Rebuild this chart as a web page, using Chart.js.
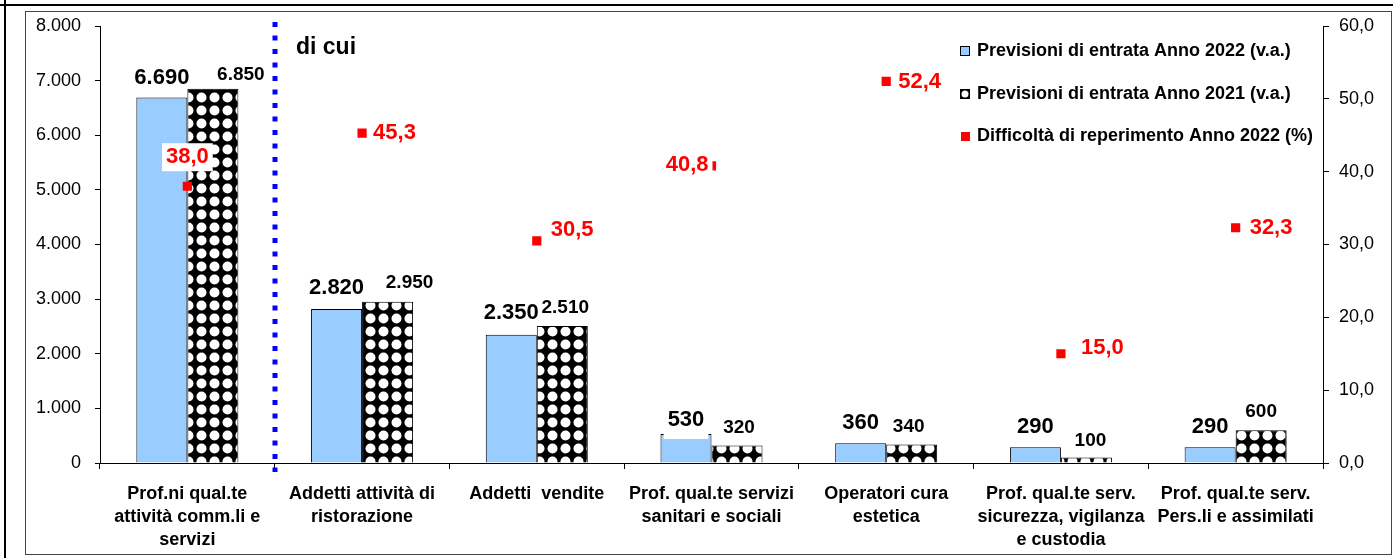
<!DOCTYPE html>
<html>
<head>
<meta charset="utf-8">
<script src="https://cdn.jsdelivr.net/npm/chart.js@4.4.1/dist/chart.umd.min.js"></script>
<style>
  html, body { margin: 0; padding: 0; background: #fff; }
  #chart { display: block; }
</style>
</head>
<body>
<canvas id="chart" width="1393" height="558"></canvas>
<script>
// --- data ---
const categories = [
  ['Prof.ni qual.te', 'attività comm.li e', 'servizi'],
  ['Addetti attività di', 'ristorazione'],
  ['Addetti  vendite'],
  ['Prof. qual.te servizi', 'sanitari e sociali'],
  ['Operatori cura', 'estetica'],
  ['Prof. qual.te serv.', 'sicurezza, vigilanza', 'e custodia'],
  ['Prof. qual.te serv.', 'Pers.li e assimilati']
];
const entrate_2022 = [6690, 2820, 2350, 530, 360, 290, 290];
const entrate_2021 = [6850, 2950, 2510, 320, 340, 100, 600];
const difficolta_2022 = [38.0, 45.3, 30.5, 40.8, 52.4, 15.0, 32.3];
const series_labels = [
  'Previsioni di entrata Anno 2022 (v.a.)',
  'Previsioni di entrata Anno 2021 (v.a.)',
  'Difficoltà di reperimento Anno 2022 (%)'
];
const left_max = 8000, left_step = 1000;
const right_max = 60, right_step = 10;
const divider_text = 'di cui';

const BLUE = '#99ccff';
const RED = '#ff0000';
const FONT = "'Liberation Sans', Arial, sans-serif";

// italian number formats: 6.690 / 38,0
function fmt_int(v) { return String(Math.round(v)).replace(/\B(?=(\d{3})+(?!\d))/g, '.'); }
function fmt_dec(v) { return Number(v).toFixed(1).replace('.', ','); }

// narrow font for the category labels if installed, otherwise a smaller regular one
function has_font(name) {
  const g = document.createElement('canvas').getContext('2d');
  const s = 'Addetti attività di ristorazione';
  g.font = 'bold 20px monospace';
  const a = g.measureText(s).width;
  g.font = `bold 20px '${name}', monospace`;
  const b = g.measureText(s).width;
  return Math.abs(a - b) > 0.5;
}
const narrow = has_font('Liberation Sans Narrow');
const x_font = narrow
  ? { family: "'Liberation Sans Narrow', " + FONT, size: 21, weight: 'bold', lineHeight: 1.12 }
  : { family: FONT, size: 18, weight: 'bold', lineHeight: 1.3 };

const canvas = document.getElementById('chart');
const main_ctx = canvas.getContext('2d');

// black with white dots, like the old excel fill
function make_checker() {
  const n = 13;
  const c = document.createElement('canvas');
  c.width = n; c.height = n;
  const g = c.getContext('2d');
  g.fillStyle = '#000'; g.fillRect(0, 0, n, n);
  g.fillStyle = '#fff';
  g.beginPath(); g.arc(n / 2, n / 2, 5.0, 0, Math.PI * 2); g.fill();
  return main_ctx.createPattern(c, 'repeat');
}
const checker = make_checker();

function text_box(ctx, txt, x, y, align, bg, bg_down) {
  ctx.textAlign = align;
  ctx.textBaseline = 'middle';
  if (bg) {
    const w = ctx.measureText(txt).width;
    const left = align === 'center' ? x - w / 2 : (align === 'right' ? x - w : x);
    ctx.save();
    ctx.fillStyle = '#fff';
    ctx.fillRect(left - 4, y - 14, w + 8, 28 + (bg_down || 0));
    ctx.restore();
  }
  ctx.fillText(txt, x, y);
}

const labelsPlugin = {
  id: 'labels_and_divider',
  beforeDraw(chart) {
    const ctx = chart.ctx;
    ctx.save();
    ctx.fillStyle = '#fff';
    ctx.fillRect(0, 0, chart.width, chart.height);
    ctx.restore();
  },
  afterDatasetsDraw(chart) {
    const { ctx, chartArea, scales: { x } } = chart;
    ctx.save();

    // dotted divider between first column and the "di cui" part
    const xd = Math.round((x.getPixelForValue(0) + x.getPixelForValue(1)) / 2);
    ctx.strokeStyle = '#0000ff';
    ctx.lineWidth = 5;
    ctx.setLineDash([5, 8.5]);
    ctx.beginPath();
    ctx.moveTo(xd, chartArea.top - 4);
    ctx.lineTo(xd, chartArea.bottom + 9);
    ctx.stroke();
    ctx.setLineDash([]);

    ctx.fillStyle = '#000';
    ctx.font = 'bold 23px ' + FONT;
    ctx.textAlign = 'left';
    ctx.textBaseline = 'middle';
    ctx.fillText(divider_text, xd + 21, chartArea.top + 22);

    // bar values
    const m22 = chart.getDatasetMeta(0), m21 = chart.getDatasetMeta(1);
    const dy22 = [-20, -21, -22, -14, -20, -20, -20];
    ctx.font = 'bold 22px ' + FONT;
    m22.data.forEach((bar, i) => {
      text_box(ctx, fmt_int(entrate_2022[i]), bar.x, bar.y + dy22[i], 'center', i === 3, 5);
    });
    const dx21 = [28, 22, 3, 2, -3, 4, 0];
    const dy21 = [-14, -19, -18, -18, -18, -17, -18];
    ctx.font = 'bold 19px ' + FONT;
    m21.data.forEach((bar, i) => {
      text_box(ctx, fmt_int(entrate_2021[i]), bar.x + dx21[i], bar.y + dy21[i], 'center', false);
    });

    // difficulty labels
    const pos = [
      { dx: 0, dy: -29, align: 'center', bg: true },
      { dx: 11, dy: 0, align: 'left' },
      { dx: 14, dy: -11, align: 'left' },
      { dx: -3, dy: -1, align: 'right', bg: true },
      { dx: 12, dy: 1, align: 'left' },
      { dx: 20, dy: -6, align: 'left' },
      { dx: 14, dy: 0, align: 'left' }
    ];
    const md = chart.getDatasetMeta(2);
    ctx.font = 'bold 22px ' + FONT;
    ctx.fillStyle = RED;
    md.data.forEach((pt, i) => {
      const p = pos[i];
      text_box(ctx, fmt_dec(difficolta_2022[i]), pt.x + p.dx, pt.y + p.dy, p.align, p.bg);
    });
    ctx.restore();
  },
  afterDraw(chart) {
    const { ctx, chartArea } = chart;
    ctx.save();
    // legend inside the plot, top right
    const lx = chartArea.right - 363;
    const ly = [51, 94, 136];
    ctx.font = 'bold 18px ' + FONT;
    ctx.textAlign = 'left';
    ctx.textBaseline = 'middle';
    // marker 1
    ctx.fillStyle = BLUE;
    ctx.fillRect(lx, ly[0] - 5, 10, 10);
    ctx.strokeStyle = '#000'; ctx.lineWidth = 1;
    ctx.strokeRect(lx + 0.5, ly[0] - 4.5, 9, 9);
    // marker 2
    ctx.fillStyle = '#000';
    ctx.fillRect(lx, ly[1] - 5, 10, 10);
    ctx.fillStyle = '#fff';
    ctx.beginPath(); ctx.arc(lx + 5, ly[1], 3.5, 0, Math.PI * 2); ctx.fill();
    // marker 3
    ctx.fillStyle = RED;
    ctx.fillRect(lx + 1, ly[2] - 4, 9, 9);
    ctx.fillStyle = '#000';
    series_labels.forEach((s, i) => ctx.fillText(s, lx + 17, ly[i]));

    // frame
    ctx.strokeStyle = '#444';
    ctx.lineWidth = 1;
    ctx.strokeRect(25.5, 11.5, 1366, 543);
    ctx.fillStyle = '#000';
    ctx.fillRect(0, 4, chart.width, 2);
    ctx.fillRect(4, 0, 2, chart.height);
    ctx.restore();
  }
};

const tick_grid = { display: true, drawOnChartArea: false, color: '#000', lineWidth: 1 };

new Chart(canvas, {
  data: {
    labels: categories,
    datasets: [
      { type: 'bar', label: series_labels[0], data: entrate_2022, backgroundColor: BLUE,
        borderColor: '#000', borderWidth: 1, yAxisID: 'y', order: 2 },
      { type: 'bar', label: series_labels[1], data: entrate_2021, backgroundColor: checker,
        borderColor: '#000', borderWidth: 1, yAxisID: 'y', order: 2 },
      { type: 'line', label: series_labels[2], data: difficolta_2022, showLine: false,
        pointStyle: 'rect', pointRadius: 6.5, pointBorderWidth: 0,
        backgroundColor: RED, borderColor: RED, yAxisID: 'y1', order: 1 }
    ]
  },
  options: {
    responsive: false,
    animation: false,
    events: [],
    categoryPercentage: 0.584,
    barPercentage: 1.0,
    layout: { padding: { left: 25, top: 26, right: 0, bottom: 0 } },
    plugins: { legend: { display: false }, tooltip: { enabled: false } },
    scales: {
      x: {
        offset: true,
        grid: { ...tick_grid, offset: true, tickLength: 6 },
        border: { color: '#000' },
        ticks: { color: '#000', font: x_font, padding: 13, maxRotation: 0, autoSkip: false },
        afterFit: s => { s.height = 95; }
      },
      y: {
        position: 'left', min: 0, max: left_max,
        grid: { ...tick_grid, tickLength: 5 },
        border: { color: '#000' },
        ticks: { stepSize: left_step, callback: v => fmt_int(v), color: '#000',
          font: { family: FONT, size: 18 }, padding: 14 },
        afterFit: s => { s.width = 75; }
      },
      y1: {
        position: 'right', min: 0, max: right_max,
        grid: { ...tick_grid, tickLength: 6 },
        border: { color: '#000' },
        ticks: { stepSize: right_step, callback: v => fmt_dec(v), color: '#000',
          font: { family: FONT, size: 18 }, padding: 10 },
        afterFit: s => { s.width = 70; }
      }
    }
  },
  plugins: [labelsPlugin]
});
</script>
</body>
</html>
